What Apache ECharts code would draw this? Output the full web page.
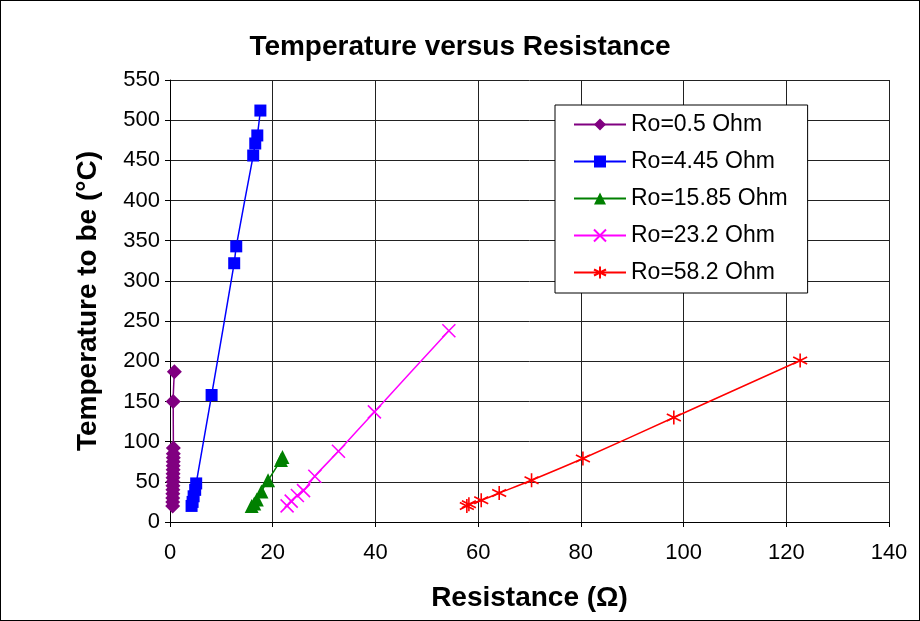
<!DOCTYPE html>
<html>
	<head>
		<meta charset="utf-8">
		<title>Temperature versus Resistance</title>
		<script src="https://cdn.jsdelivr.net/npm/echarts@6/dist/echarts.min.js"></script>
		<style>
			html, body { margin: 0; padding: 0; background: #fff; }
			#main { width: 918px; height: 619px; border: 1px solid #000; }
		</style>
	</head>
	<body>
		<div id="main"></div>
		<script>
		// [resistance, temperature]
		var ro05 = [[0.52,20],[0.53,25],[0.54,30],[0.55,35],[0.56,40],[0.57,45],[0.58,50],[0.59,55],
			[0.6,60],[0.61,65],[0.62,70],[0.63,75],[0.64,80],[0.65,85],[0.66,92],[0.62,150],[0.85,187]];
		var ro445 = [[4.2,20],[4.4,25],[4.6,32],[4.9,40],[5.1,48],[8.1,158],[12.5,322],[12.9,343],
			[16.2,456],[16.6,471],[17.0,481],[17.6,512]];
		var ro1585 = [[15.9,20],[16.4,23],[16.9,28],[17.8,38],[19.1,52],[21.6,77],[21.9,81]];
		var ro232 = [[22.8,20],[23.6,26],[24.8,33],[26.0,39],[28.2,57],[32.8,88],[39.8,137],[54.3,238]];
		var ro582 = [[57.8,20],[58.2,22],[60.6,27],[64.1,36],[70.4,52],[80.4,79],[98.1,130],[122.7,201]];
		var names = ['Ro=0.5 Ohm','Ro=4.45 Ohm','Ro=15.85 Ohm','Ro=23.2 Ohm','Ro=58.2 Ohm'];
		var colors = ['#800080','#0000FF','#008000','#FF00FF','#FF0000'];

		var crossPath = 'path://M0,0 L10,10 M10,0 L0,10';
		var starPath = 'path://M5,0 L5,10 M0.7,2.5 L9.3,7.5 M0.7,7.5 L9.3,2.5';

		var font = 'Liberation Sans, Arial, sans-serif';
		var myChart = echarts.init(document.getElementById('main'));

		function filled(name, data, color, symbol, size) {
			return {
				name: name, type: 'line', data: data, smooth: 0.25,
				symbol: symbol, symbolSize: size,
				lineStyle: { color: color, width: 1.5 },
				itemStyle: { color: color },
				emphasis: { disabled: true }
			};
		}
		function stroked(name, data, color, symbol, size) {
			return {
				name: name, type: 'line', data: data, smooth: 0.25,
				symbol: symbol, symbolSize: size,
				lineStyle: { color: color, width: 1.5 },
				itemStyle: { color: 'rgba(0,0,0,0)', borderColor: color, borderWidth: 1.6 },
				emphasis: { disabled: true }
			};
		}

		var option = {
			animation: false,
			textStyle: { fontFamily: font },
			title: {
				text: 'Temperature versus Resistance',
				left: 'center', top: 27,
				textStyle: { fontFamily: font, fontSize: 28, fontWeight: 'bold', color: '#000' }
			},
			grid: { left: 169, right: 30, top: 79, bottom: 98 },
			legend: {
				orient: 'vertical',
				left: 554, top: 104,
				width: 254,
				padding: [8, 20, 9, 18],
				itemGap: 14,
				itemWidth: 52, itemHeight: 15,
				borderColor: '#000', borderWidth: 1,
				backgroundColor: '#fff',
				textStyle: { fontFamily: font, fontSize: 23, color: '#000' },
				data: names
			},
			xAxis: {
				type: 'value', min: 0, max: 140, interval: 20,
				name: 'Resistance (Ω)', nameLocation: 'middle', nameGap: 62,
				nameTextStyle: { fontFamily: font, fontSize: 28, fontWeight: 'bold', color: '#000' },
				axisLine: { lineStyle: { color: '#000', width: 1 } },
				axisTick: { show: true, length: 5, lineStyle: { color: '#000' } },
				axisLabel: { fontFamily: font, fontSize: 22, color: '#000', margin: 20 },
				splitLine: { show: true, lineStyle: { color: '#222', width: 1 } }
			},
			yAxis: {
				type: 'value', min: 0, max: 550, interval: 50,
				name: 'Temperature to be (°C)', nameLocation: 'middle', nameGap: 68,
				nameTextStyle: { fontFamily: font, fontSize: 28, fontWeight: 'bold', color: '#000' },
				axisLine: { show: true, lineStyle: { color: '#000', width: 1 } },
				axisTick: { show: true, length: 5, lineStyle: { color: '#000' } },
				axisLabel: { fontFamily: font, fontSize: 22, color: '#000', margin: 10 },
				splitLine: { show: true, lineStyle: { color: '#222', width: 1 } }
			},
			series: [
				filled(names[0], ro05, colors[0], 'diamond', 15),
				filled(names[1], ro445, colors[1], 'rect', 12),
				filled(names[2], ro1585, colors[2], 'triangle', 14),
				stroked(names[3], ro232, colors[3], crossPath, 13),
				stroked(names[4], ro582, colors[4], starPath, 14)
			]
		};
		myChart.setOption(option);
		</script>
	</body>
</html>
